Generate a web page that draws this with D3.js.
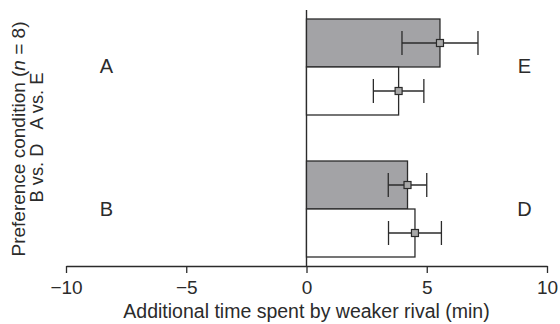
<!DOCTYPE html>
<html><head><meta charset="utf-8">
<script src="https://cdn.jsdelivr.net/npm/d3@7"></script>
<style>
html,body{margin:0;padding:0;background:#fff;}
svg{display:block;font-family:"Liberation Sans",Arial,Helvetica,sans-serif;}
</style></head><body>
<svg id="c" width="560" height="324"></svg>
<script>
const groups = ["A vs. E", "B vs. D"];
const leftLabels = ["A", "B"];
const rightLabels = ["E", "D"];
const greyMeans = [5.55, 4.2];
const greyErr = [1.58, 0.8];
const whiteMeans = [3.83, 4.51];
const whiteErr = [1.05, 1.1];
const xTicks = [-10, -5, 0, 5, 10];

const svg = d3.select("#c");
const ink = "#2b2b2b";
const x = d3.scaleLinear().domain([-10, 10]).range([66, 547]);
const y = d3.scaleBand().domain(groups).range([19, 257]).paddingInner(0.324).paddingOuter(0);
const sub = d3.scaleBand().domain(["grey", "white"]).range([0, y.bandwidth()]);

const series = [
  {key: "grey", means: greyMeans, err: greyErr, fill: "#a3a3a6"},
  {key: "white", means: whiteMeans, err: whiteErr, fill: "#ffffff"}
];

// zero line
svg.append("line").attr("x1", x(0)).attr("x2", x(0)).attr("y1", 10).attr("y2", 266)
  .attr("stroke", ink).attr("stroke-width", 1.4);

series.forEach(s => {
  groups.forEach((grp, i) => {
    const y0 = y(grp) + sub(s.key);
    svg.append("rect").attr("x", x(0)).attr("y", y0)
      .attr("width", x(s.means[i]) - x(0)).attr("height", sub.bandwidth())
      .attr("fill", s.fill).attr("stroke", ink).attr("stroke-width", 1.3);
  });
});
series.forEach(s => {
  groups.forEach((grp, i) => {
    const cy = y(grp) + sub(s.key) + sub.bandwidth() / 2;
    const lo = x(s.means[i] - s.err[i]), hi = x(s.means[i] + s.err[i]);
    svg.append("line").attr("x1", lo).attr("x2", hi).attr("y1", cy).attr("y2", cy)
      .attr("stroke", ink).attr("stroke-width", 1.3);
    [lo, hi].forEach(xx => svg.append("line").attr("x1", xx).attr("x2", xx)
      .attr("y1", cy - 12).attr("y2", cy + 12).attr("stroke", ink).attr("stroke-width", 1.3));
    svg.append("rect").attr("x", x(s.means[i]) - 3.5).attr("y", cy - 3.5)
      .attr("width", 7).attr("height", 7).attr("fill", "#a8a8a8")
      .attr("stroke", ink).attr("stroke-width", 1.2);
  });
});

// axis
const ax = svg.append("g").attr("transform", "translate(0,266)")
  .call(d3.axisBottom(x).tickValues(xTicks).tickSize(7).tickSizeOuter(0).tickPadding(8));
ax.select(".domain").attr("stroke", ink).attr("stroke-width", 1.3);
ax.selectAll(".tick line").attr("stroke", ink).attr("stroke-width", 1.3);
ax.selectAll(".tick text").attr("fill", ink).attr("font-size", 19).attr("font-family", "Liberation Sans, Arial, sans-serif");

svg.append("text").attr("x", x(0)).attr("y", 317.5).attr("text-anchor", "middle")
  .attr("font-size", 19.5).attr("fill", ink).text("Additional time spent by weaker rival (min)");

// side letters
groups.forEach((grp, i) => {
  const cy = y(grp) + y.bandwidth() / 2 + 6.5;
  svg.append("text").attr("x", 106.5).attr("y", cy).attr("text-anchor", "middle")
    .attr("font-size", 20).attr("fill", ink).text(leftLabels[i]);
  svg.append("text").attr("x", 524.5).attr("y", cy).attr("text-anchor", "middle")
    .attr("font-size", 20).attr("fill", ink).text(rightLabels[i]);
});

// y labels
const t1 = svg.append("text").attr("transform", "translate(25,139) rotate(-90)")
  .attr("text-anchor", "middle").attr("font-size", 19).attr("fill", ink);
t1.append("tspan").text("Preference condition (");
t1.append("tspan").attr("font-style", "italic").text("n");
t1.append("tspan").text(" = 8)");
const gpos = [101, 173];
groups.forEach((grp, i) => {
  svg.append("text").attr("transform", `translate(43,${gpos[i]}) rotate(-90)`)
    .attr("text-anchor", "middle").attr("font-size", 18.3).attr("fill", ink).text(grp);
});
</script>
</body></html>
